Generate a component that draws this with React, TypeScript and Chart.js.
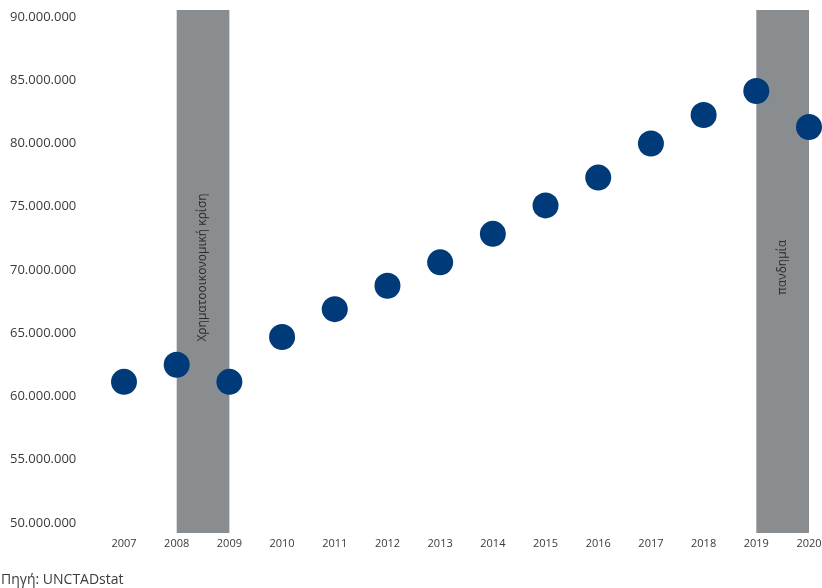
import React, { useEffect, useRef } from "react";
import { Chart, registerables } from "chart.js";

Chart.register(...registerables);

const years = ["2007","2008","2009","2010","2011","2012","2013","2014","2015","2016","2017","2018","2019","2020"];
const values = [61150000, 62500000, 61150000, 64700000, 66900000, 68750000, 70600000, 72850000, 75100000, 77300000, 80000000, 82250000, 84150000, 81300000];
const yTicks = [50000000, 55000000, 60000000, 65000000, 70000000, 75000000, 80000000, 85000000, 90000000];
const bandStarts = ["2008", "2019"];
const bandEnds = ["2009", "2020"];
const bandLabels = ["Χρηματοοικονομική κρίση", "πανδημία"];
const sourceText = "Πηγή: UNCTADstat";

const fmt = (v: number) => v.toLocaleString("de-DE");

const bandsPlugin = {
  id: "bands",
  beforeDatasetsDraw(chart: any) {
    const { ctx, chartArea, scales } = chart;
    const x = scales.x;
    ctx.save();
    bandStarts.forEach((s, i) => {
      const x0 = x.getPixelForValue(years.indexOf(s));
      const x1 = x.getPixelForValue(years.indexOf(bandEnds[i]));
      ctx.fillStyle = "#8a8d90";
      ctx.fillRect(x0, chartArea.top, x1 - x0, chartArea.bottom - chartArea.top);
      ctx.save();
      ctx.translate((x0 + x1) / 2, (chartArea.top + chartArea.bottom) / 2 - 4);
      ctx.rotate(-Math.PI / 2);
      ctx.fillStyle = "#2b2b2b";
      ctx.font = "12px 'Open Sans'";
      ctx.textAlign = "center";
      ctx.textBaseline = "middle";
      ctx.fillText(bandLabels[i], 0, 0);
      ctx.restore();
    });
    ctx.restore();
  },
};

export default function App() {
  const ref = useRef<HTMLCanvasElement>(null);
  useEffect(() => {
    document.body.style.margin = "0";
    const chart = new Chart(ref.current!, {
      type: "line",
      data: {
        labels: years,
        datasets: [
          {
            data: values,
            showLine: false,
            pointRadius: 13,
            pointHoverRadius: 13,
            pointBackgroundColor: "#003a78",
            pointBorderColor: "#003a78",
            pointBorderWidth: 0,
            clip: false as any,
          },
        ],
      },
      options: {
        animation: false,
        responsive: false,
        layout: { autoPadding: false, padding: { left: 10, right: 13, top: 10, bottom: 30 } },
        plugins: { legend: { display: false }, tooltip: { enabled: false } },
        scales: {
          x: {
            offset: false,
            grid: { display: false, drawTicks: false },
            border: { display: false },
            ticks: {
              color: "#3a3a3a",
              font: { family: "'Open Sans'", size: 11 },
              maxRotation: 0,
              padding: 4,
            },
            afterFit(s: any) { s.height = 25; s.paddingLeft = 0; s.paddingRight = 0; },
          },
          y: {
            min: 49200000,
            max: 90550000,
            grid: { display: false, drawTicks: false },
            border: { display: false },
            afterBuildTicks(s: any) { s.ticks = yTicks.map((v) => ({ value: v })); },
            afterFit(s: any) { s.width = 114; s.paddingTop = 0; s.paddingBottom = 0; },
            ticks: {
              crossAlign: "far",
              color: "#3a3a3a",
              font: { family: "'Open Sans'", size: 13 },
              callback: (v: any) => fmt(Number(v)),
            },
          },
        },
      },
      plugins: [bandsPlugin],
    });
    return () => chart.destroy();
  }, []);
  return (
    <div style={{ position: "relative", width: 822, height: 588 }}>
      <canvas ref={ref} width={822} height={588} />
      <div style={{ position: "absolute", left: 1, top: 569, fontFamily: "'Open Sans'", fontSize: 14, color: "#3a3a3a" }}>
        {sourceText}
      </div>
    </div>
  );
}
